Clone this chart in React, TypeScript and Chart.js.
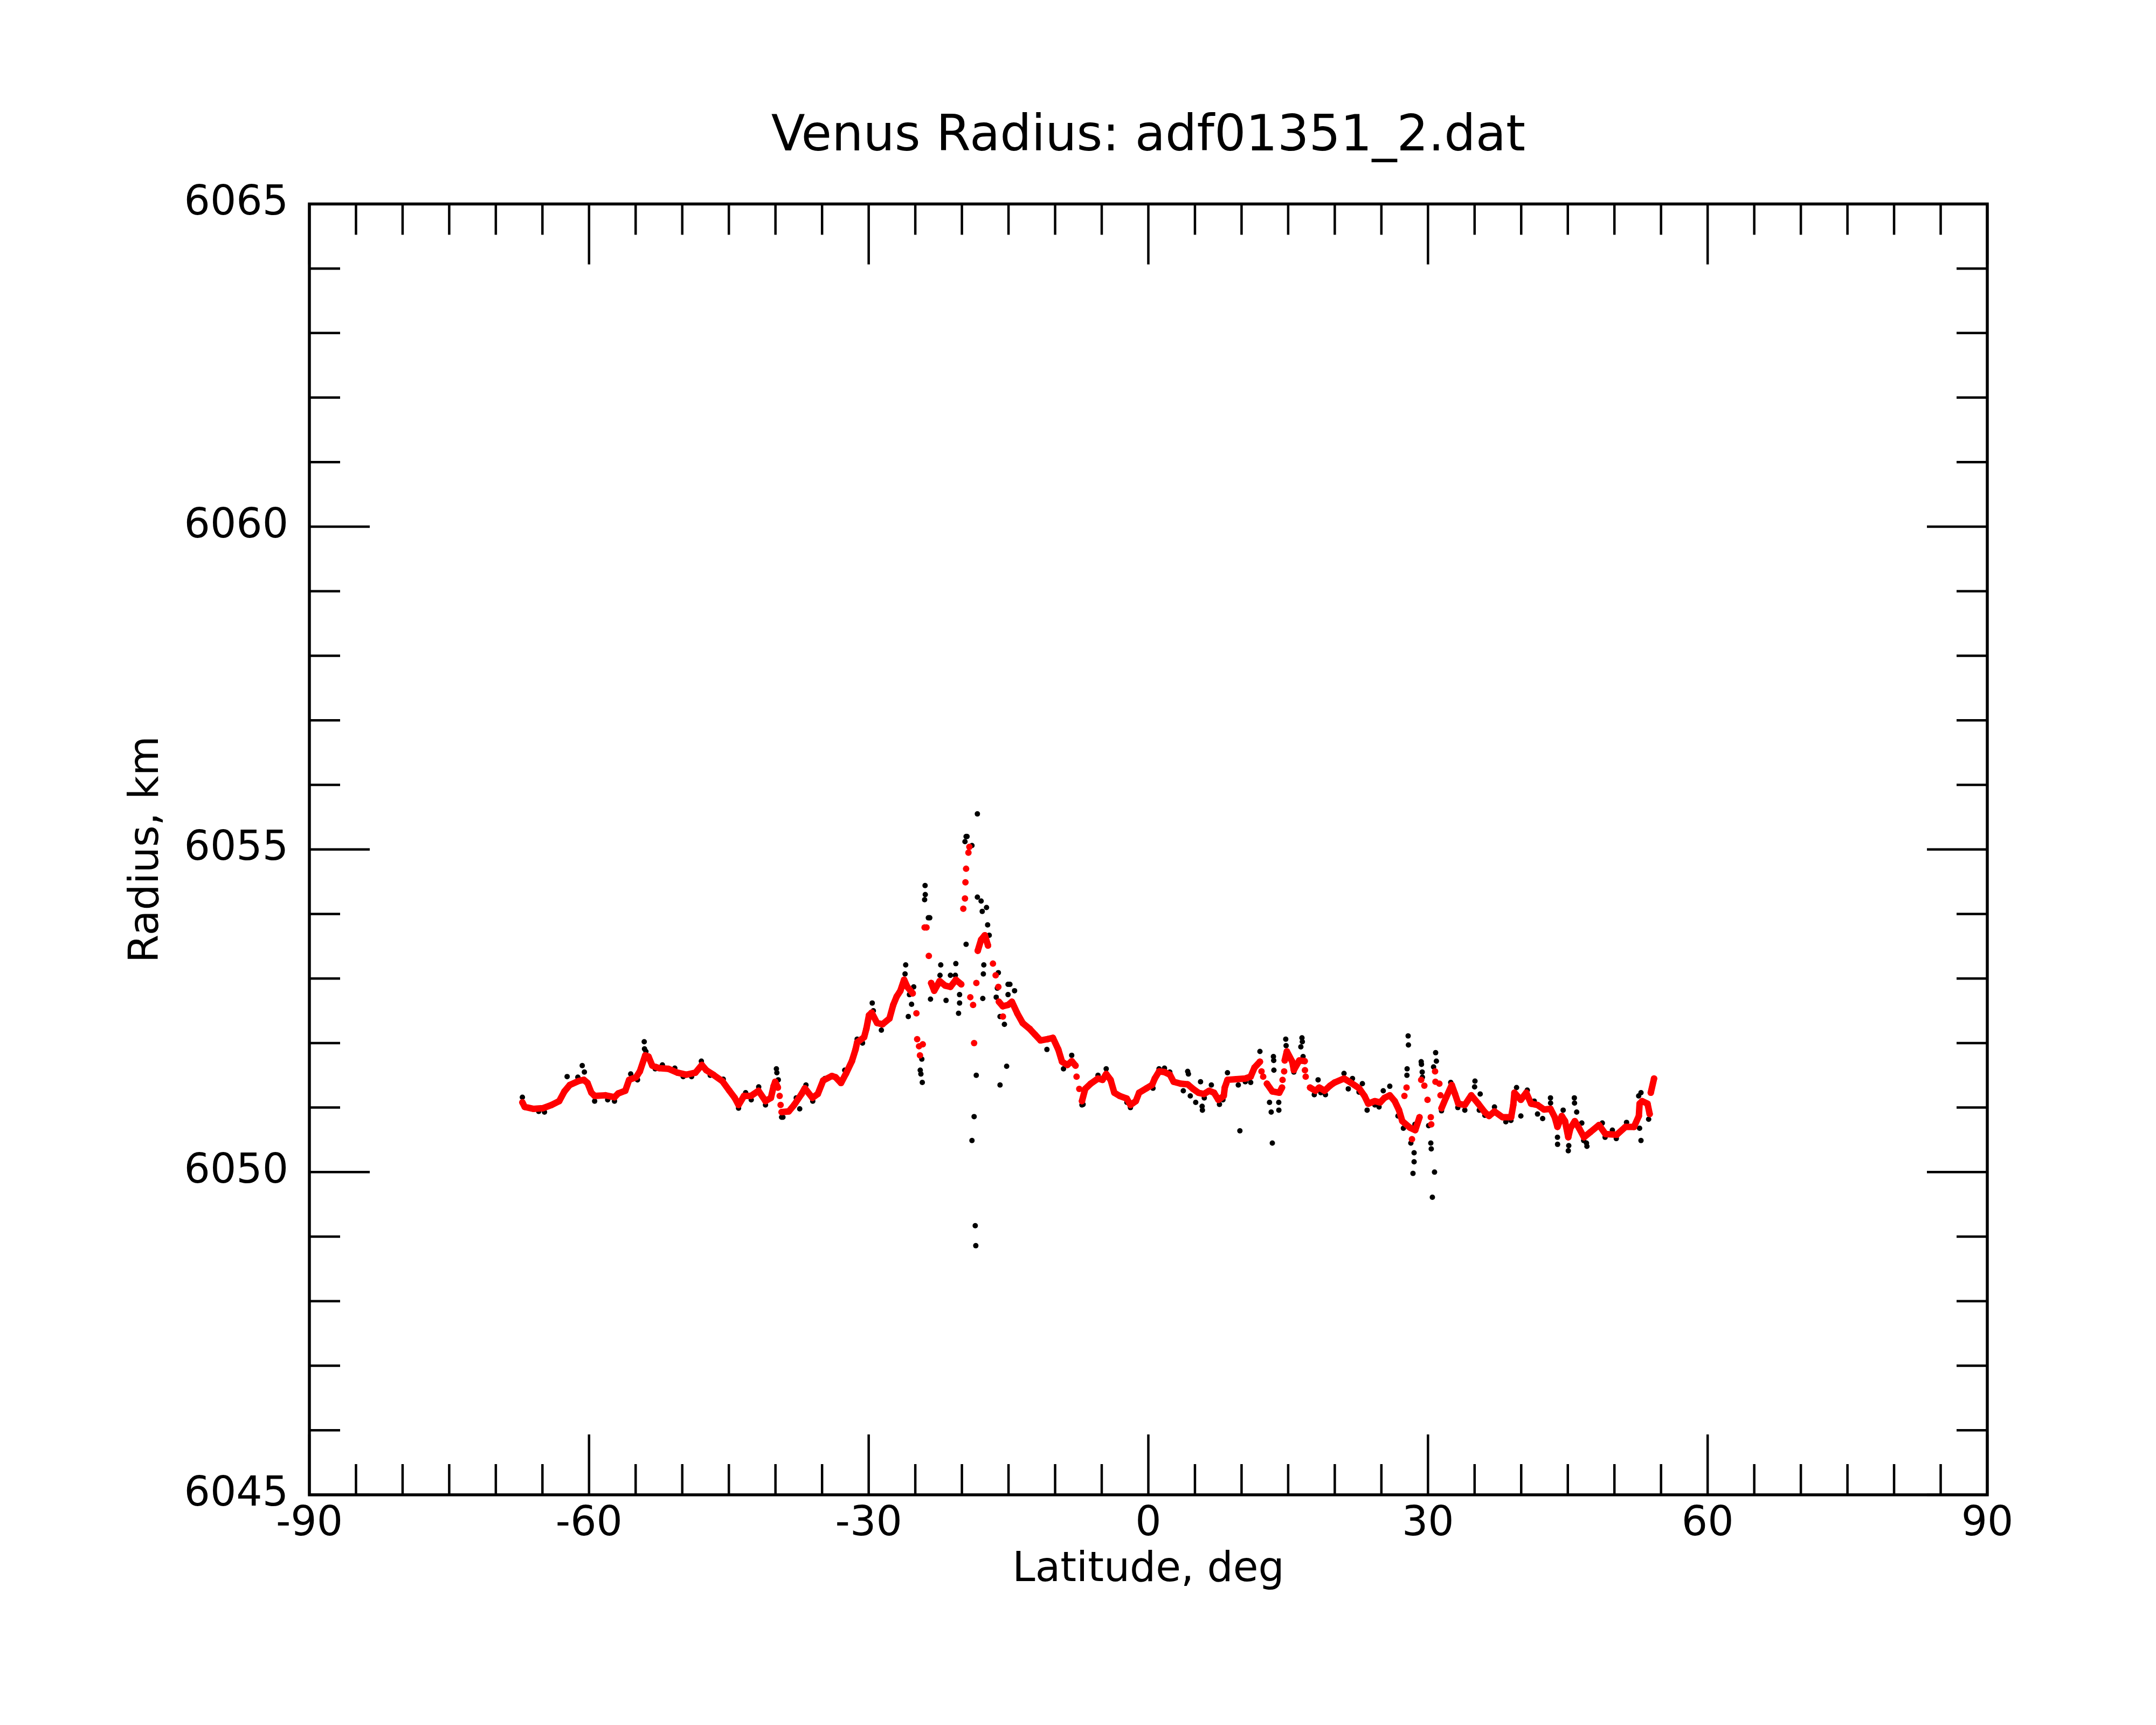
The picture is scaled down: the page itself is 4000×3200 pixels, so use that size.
import { useEffect, useRef } from "react"
import { Chart, registerables } from "chart.js"

Chart.register(...registerables)

const FONT = "'DejaVu Sans', 'Liberation Sans', sans-serif"

// axis ticks
const xMajorTicks = [-90, -60, -30, 0, 30, 60, 90]
const xMinorTicks = [
  -85, -80, -75, -70, -65, -55, -50, -45, -40, -35, -25, -20, -15, -10, -5,
  5, 10, 15, 20, 25, 35, 40, 45, 50, 55, 65, 70, 75, 80, 85,
]
const yMajorTicks = [6045, 6050, 6055, 6060, 6065]
const yMinorTicks = [
  6046, 6047, 6048, 6049, 6051, 6052, 6053, 6054, 6056, 6057, 6058, 6059,
  6061, 6062, 6063, 6064,
]

// red (filtered) trace, latitude deg / radius km
const redLat = [
  -67.15, -66.9, -65.94, -64.96, -64.03, -63.2, -62.64, -62.07, -61.14, -60.56,
  -60.16, -59.75, -59.4, -58.25, -57.27, -56.86, -56.11, -55.7, -54.95, -54.55,
  -53.97, -53.62, -53.22, -52.46, -51.48, -50.5, -49.57, -48.59, -47.9, -47.43,
  -46.68, -45.7, -44.94, -44.37, -43.96, -43.38, -42.63, -41.82, -41.07, -40.49,
  -40.2, -40.03, -39.74,
  -39.34, -38.58, -38.0, -37.2, -36.85, -36.04, -35.46, -34.88, -33.95, -33.55,
  -32.97, -32.39, -31.8, -31.41, -31.24, -30.49, -30.25, -29.97, -29.68, -29.1,
  -28.52, -27.77, -27.37, -27.0, -26.6, -26.2, -25.86, -25.28,
  -23.3, -22.97, -22.39, -21.8, -21.23, -20.65, -20.07,
  -18.3, -17.94, -17.54, -17.2,
  -16.03, -15.62, -15.05, -14.64, -14.06, -13.48, -12.73, -12.15, -11.57, -10.82,
  -10.24, -9.66, -9.26, -8.68, -8.22, -7.81,
  -7.12, -6.77, -6.19, -5.4, -4.92, -4.52, -4.05, -3.65, -3.07, -2.32, -1.92,
  -1.34, -0.99, -0.18, 0.4, 0.69, 1.15, 1.73, 2.31, 2.71, 3.46, 4.22, 4.79, 5.37,
  5.95, 6.53, 7.05, 7.51, 8.09, 8.2, 8.49, 9.42, 10.4, 10.98, 11.39, 11.97,
  12.72, 13.3, 14.05, 14.34,
  14.63, 14.86, 15.44, 15.61, 16.19, 16.77,
  17.35, 17.92, 18.33, 18.91, 19.5, 20.0, 20.99, 21.68, 22.61, 23.19, 23.59,
  24.29, 24.87, 25.33, 25.9, 26.43, 26.89, 27.24, 28.05, 28.63, 29.09,
  31.45, 31.92, 32.55, 32.9, 33.25, 33.95, 34.64, 35.39, 36.08, 36.55, 37.13,
  38.0, 38.92, 39.15, 39.27, 39.96, 40.54, 41.06, 41.75, 42.45, 43.14, 43.6,
  43.89, 44.35, 44.7, 45.05, 45.28, 45.75, 46.21, 46.73, 47.42, 48.35, 49.04,
  50.25, 51.18, 52.1, 52.62, 52.7, 52.97, 53.55, 53.78, 53.9, 54.25,
]
const redRad = [
  6051.08, 6051.01, 6050.98, 6050.99, 6051.04, 6051.1, 6051.25, 6051.35, 6051.41, 6051.43,
  6051.38, 6051.23, 6051.18, 6051.19, 6051.16, 6051.22, 6051.26, 6051.43, 6051.47, 6051.56,
  6051.81, 6051.79, 6051.65, 6051.61, 6051.6, 6051.54, 6051.51, 6051.54, 6051.66, 6051.58,
  6051.51, 6051.41, 6051.26, 6051.15, 6051.04, 6051.18, 6051.18, 6051.26, 6051.1, 6051.15,
  6051.33, 6051.4, 6051.31,
  6050.93, 6050.94, 6051.04, 6051.21, 6051.3, 6051.15, 6051.21, 6051.42, 6051.49, 6051.47,
  6051.38, 6051.54, 6051.72, 6051.9, 6052.01, 6052.09, 6052.22, 6052.43, 6052.47, 6052.31,
  6052.29, 6052.38, 6052.59, 6052.72, 6052.81, 6052.98, 6052.87, 6052.77,
  6052.93, 6052.81, 6052.96, 6052.89, 6052.87, 6052.98, 6052.91,
  6053.43, 6053.6, 6053.67, 6053.51,
  6052.64, 6052.57, 6052.59, 6052.64, 6052.46, 6052.31, 6052.22, 6052.13, 6052.04, 6052.06,
  6052.08, 6051.9, 6051.71, 6051.66, 6051.72, 6051.65,
  6051.1, 6051.29, 6051.37, 6051.45, 6051.43, 6051.52, 6051.43, 6051.23, 6051.18, 6051.14, 6051.04,
  6051.1, 6051.23, 6051.3, 6051.35, 6051.45, 6051.56, 6051.55, 6051.51, 6051.4, 6051.37, 6051.36, 6051.29, 6051.23,
  6051.21, 6051.26, 6051.23, 6051.12, 6051.18, 6051.31, 6051.43, 6051.44, 6051.45, 6051.48, 6051.62, 6051.71,
  6051.37, 6051.25, 6051.23, 6051.31,
  6051.73, 6051.87, 6051.71, 6051.58, 6051.73, 6051.72,
  6051.31, 6051.26, 6051.31, 6051.26, 6051.34, 6051.39, 6051.45, 6051.39, 6051.3, 6051.18, 6051.06,
  6051.1, 6051.08, 6051.15, 6051.19, 6051.1, 6050.96, 6050.79, 6050.69, 6050.65, 6050.85,
  6050.99, 6051.15, 6051.35, 6051.21, 6051.06, 6051.04, 6051.19, 6051.06, 6050.93, 6050.87, 6050.94,
  6050.85, 6050.85, 6051.04, 6051.23, 6051.12, 6051.23, 6051.06, 6051.04, 6050.97, 6050.98, 6050.85,
  6050.7, 6050.87, 6050.79, 6050.54, 6050.68, 6050.79, 6050.68, 6050.54, 6050.62, 6050.73, 6050.59,
  6050.58, 6050.7, 6050.7, 6050.87, 6051.06, 6051.1, 6051.06, 6050.9, 6051.23, 6051.45,
]

// red points that stand apart from the trace
const redDotLat = [
  -39.55, -39.45, -24.88, -24.8, -24.6, -24.5, -24.2, -24.0, -23.8, -23.55,
  -19.85, -19.67, -19.62, -19.55, -19.3, -19.2, -19.1, -18.8, -18.69, -18.45,
  -16.67, -16.38, -16.09, -15.6, -7.7, -7.41, 12.14, 12.32, 14.4, 14.57,
  16.8, 16.88, 27.47, 27.7, 28.28, 29.27, 29.61, 29.95, 30.3, 30.35,
  30.76, 30.8, 31.22, 31.34,
]
const redDotRad = [
  6051.18, 6051.04, 6052.46, 6052.06, 6051.95, 6051.81, 6051.98, 6053.79, 6053.79, 6053.35,
  6054.08, 6054.24, 6054.49, 6054.7, 6054.95, 6055.04, 6052.71, 6052.59, 6052.0, 6052.93,
  6053.23, 6053.05, 6052.87, 6052.41, 6051.48, 6051.29, 6051.56, 6051.48, 6051.43, 6051.56,
  6051.58, 6051.48, 6051.18, 6051.31, 6050.51, 6051.43, 6051.34, 6051.12, 6050.85, 6050.74,
  6051.56, 6051.4, 6051.37, 6051.19,
]

// black (raw) points
const blackLat = [
  -67.15, -65.4, -64.78, -62.35, -61.2, -60.73, -60.5, -59.4, -58.0, -57.27,
  -55.53, -54.8, -54.08, -54.05, -53.9, -52.9, -52.13, -50.8, -49.9, -49.0,
  -47.95, -47.0, -45.6, -44.6, -43.96, -43.2, -42.6, -41.8, -41.07, -39.9,
  -39.85, -39.7, -39.34, -39.2, -37.77, -37.4, -36.73, -36.0, -34.7, -32.57,
  -32.4, -31.24, -30.66, -29.62, -29.5, -28.64, -26.03, -26.1, -25.63, -25.4,
  -25.75, -25.17, -24.47, -24.3, -24.4, -24.25, -24.0, -23.95, -23.93, -23.6,
  -23.45, -23.37, -22.27, -22.35, -21.7, -21.23, -20.65, -20.7, -20.25, -20.25,
  -20.36, -19.67, -19.55, -19.45, -18.92, -19.55, -18.34, -18.34, -17.94, -17.82,
  -17.36, -17.24, -17.07, -17.65, -17.7, -17.76, -18.46, -18.69, -18.92, -18.57,
  -18.51, -16.09, -16.2, -16.32, -15.91, -15.44, -15.2, -15.91, -15.05, -14.85,
  -14.35, -15.05, -10.88,
  -9.1, -8.22, -7.12, -7.0, -5.4, -4.52, -2.3, -1.92, 0.5, 1.15,
  1.73, 2.3, 3.75, 4.22, 4.3, 4.5, 5.08, 5.77, 5.8, 5.6,
  6.0, 6.76, 7.63, 8.0, 8.49, 9.65, 9.82, 10.4, 10.98, 11.97,
  13.42, 13.45, 13.47, 13.0, 13.18, 13.99, 14.0, 13.3, 14.74, 14.78,
  15.61, 16.48, 16.52, 16.36, 16.6, 18.21, 17.8, 18.5, 19.0,
  20.99, 21.45, 21.9, 22.6, 22.96, 23.47, 24.3, 24.75, 25.9, 25.2,
  26.78, 27.36, 27.87, 27.9, 27.76, 27.74, 28.16, 28.51, 28.51, 28.39,
  28.6, 29.27, 29.3, 29.38, 29.4, 30.07, 30.3, 30.35, 30.7, 30.47,
  30.82, 30.9, 30.6, 32.44, 31.45, 33.2, 33.95, 35.04, 35.0, 35.6,
  35.5, 36.1, 37.13, 38.35, 38.9, 39.5, 40.65, 39.96, 41.4, 41.75,
  42.3, 43.14, 43.15, 44.5, 43.89, 43.9, 45.05, 45.1, 45.7, 45.72,
  45.95, 46.5, 46.7, 47.05, 47.0, 48.7, 49.0, 49.78, 50.2, 51.3,
  52.85, 52.6, 52.85, 52.7, 53.67,
]
const blackRad = [
  6051.16, 6050.94, 6050.93, 6051.48, 6051.47, 6051.65, 6051.55, 6051.1, 6051.12, 6051.1,
  6051.52, 6051.43, 6052.02, 6051.91, 6051.87, 6051.6, 6051.66, 6051.61, 6051.48, 6051.48,
  6051.72, 6051.5, 6051.44, 6051.2, 6050.99, 6051.23, 6051.12, 6051.32, 6051.04, 6051.6,
  6051.54, 6051.43, 6050.85, 6050.85, 6051.15, 6050.98, 6051.35, 6051.1, 6051.45, 6051.58,
  6051.52, 6052.06, 6052.0, 6052.62, 6052.5, 6052.2, 6053.21, 6053.07, 6052.75, 6052.6,
  6052.41, 6052.87, 6051.58, 6051.75, 6051.52, 6051.39, 6054.22, 6054.44, 6054.3, 6053.94,
  6053.94, 6052.68, 6053.21, 6053.05, 6052.66, 6053.05, 6053.23, 6053.05, 6052.75, 6052.62,
  6052.46, 6055.12, 6055.2, 6055.2, 6055.06, 6053.53, 6055.55, 6054.26, 6054.2, 6054.04,
  6054.1, 6053.83, 6053.67, 6053.21, 6053.07, 6052.69, 6051.5, 6050.86, 6050.49, 6049.17,
  6048.86, 6053.09, 6052.85, 6052.71, 6052.41, 6052.29, 6051.64, 6051.35, 6052.91, 6052.91,
  6052.81, 6052.75, 6051.9,
  6051.6, 6051.81, 6051.04, 6051.05, 6051.5, 6051.6, 6051.08, 6051.0, 6051.3, 6051.6,
  6051.61, 6051.55, 6051.26, 6051.56, 6051.52, 6051.18, 6051.08, 6051.02, 6050.96, 6051.4,
  6051.15, 6051.35, 6051.05, 6051.12, 6051.54, 6051.35, 6050.64, 6051.4, 6051.39, 6051.87,
  6051.79, 6051.73, 6051.58, 6051.08, 6050.93, 6051.08, 6050.96, 6050.45, 6052.06, 6051.96,
  6051.55, 6052.08, 6052.02, 6051.94, 6051.79, 6051.43, 6051.2, 6051.23, 6051.2,
  6051.53, 6051.29, 6051.45, 6051.24, 6051.37, 6050.96, 6051.04, 6051.01, 6051.33, 6051.26,
  6050.87, 6050.68, 6052.11, 6051.97, 6051.6, 6051.5, 6050.45, 6050.3, 6050.16, 6049.98,
  6050.74, 6051.71, 6051.67, 6051.55, 6051.47, 6050.72, 6050.45, 6050.36, 6050.0, 6049.61,
  6051.85, 6051.72, 6051.63, 6051.39, 6050.95, 6051.0, 6050.96, 6051.41, 6051.32, 6051.21,
  6050.96, 6050.88, 6051.01, 6050.78, 6050.8, 6051.31, 6051.27, 6050.87, 6051.1, 6050.9,
  6050.83, 6051.15, 6051.07, 6050.96, 6050.54, 6050.43, 6050.33, 6050.41, 6051.15, 6051.07,
  6050.93, 6050.76, 6050.49, 6050.4, 6050.45, 6050.76, 6050.54, 6050.65, 6050.52, 6050.77,
  6051.23, 6051.18, 6050.49, 6050.68, 6050.82,
]

const toPoints = (xs: number[], ys: number[]) => xs.map((x, i) => ({ x, y: ys[i] }))

// frame and inward ticks on all four sides
const framePlugin = {
  id: "frameTicks",
  afterDatasetsDraw(chart: any) {
    const { ctx, chartArea } = chart
    const { left, right, top, bottom } = chartArea
    const x = chart.scales.x
    const y = chart.scales.y
    ctx.save()
    ctx.strokeStyle = "#000"
    ctx.lineCap = "butt"
    ctx.lineWidth = 4.5
    const vTick = (v: number, len: number) => {
      const px = x.getPixelForValue(v)
      ctx.beginPath()
      ctx.moveTo(px, bottom)
      ctx.lineTo(px, bottom - len)
      ctx.moveTo(px, top)
      ctx.lineTo(px, top + len)
      ctx.stroke()
    }
    const hTick = (v: number, len: number) => {
      const py = y.getPixelForValue(v)
      ctx.beginPath()
      ctx.moveTo(left, py)
      ctx.lineTo(left + len, py)
      ctx.moveTo(right, py)
      ctx.lineTo(right - len, py)
      ctx.stroke()
    }
    xMinorTicks.forEach((v) => vTick(v, 57))
    xMajorTicks.forEach((v) => vTick(v, 112))
    yMinorTicks.forEach((v) => hTick(v, 57))
    yMajorTicks.forEach((v) => hTick(v, 112))
    ctx.lineWidth = 5.5
    ctx.lineJoin = "miter"
    ctx.strokeRect(left, top, right - left, bottom - top)
    ctx.restore()
  },
}

export default function App() {
  const canvasRef = useRef<HTMLCanvasElement>(null)
  const chartRef = useRef<Chart | null>(null)

  useEffect(() => {
    if (!canvasRef.current) return
    if (chartRef.current) chartRef.current.destroy()
    const ctx = canvasRef.current.getContext("2d")
    if (!ctx) return

    // leave steep jumps as separate dots, like the sparse samples in the plot
    const gap = (c: any) =>
      Math.abs(c.p1.y - c.p0.y) > 38 || Math.abs(c.p1.x - c.p0.x) > 28

    chartRef.current = new Chart(ctx, {
      type: "scatter",
      data: {
        datasets: [
          {
            label: "filtered",
            data: toPoints(redLat, redRad),
            showLine: true,
            borderColor: "#ff0000",
            borderWidth: 12,
            borderJoinStyle: "round",
            borderCapStyle: "round",
            backgroundColor: "#ff0000",
            pointRadius: 6,
            pointBorderWidth: 0,
            tension: 0,
            segment: {
              borderColor: (c: any) => (gap(c) ? "rgba(0,0,0,0)" : "#ff0000"),
            },
          } as any,
          {
            label: "filtered dots",
            data: toPoints(redDotLat, redDotRad),
            backgroundColor: "#ff0000",
            pointRadius: 6,
            pointBorderWidth: 0,
          },
          {
            label: "raw",
            data: toPoints(blackLat, blackRad),
            backgroundColor: "#000000",
            pointRadius: 5,
            pointBorderWidth: 0,
          },
        ],
      },
      options: {
        responsive: false,
        animation: false,
        devicePixelRatio: 1,
        layout: { padding: 0 },
        plugins: {
          legend: { display: false },
          tooltip: { enabled: false },
          title: {
            display: true,
            text: "Venus Radius: adf01351_2.dat",
            color: "#000",
            fullSize: false,
            font: { family: FONT, size: 92, weight: "normal" },
            padding: { top: 200, bottom: 68 },
          },
        },
        scales: {
          x: {
            type: "linear",
            position: "bottom",
            min: -90,
            max: 90,
            grid: { display: false, drawTicks: false },
            border: { display: false },
            afterBuildTicks: (s: any) => {
              s.ticks = xMajorTicks.map((v) => ({ value: v }))
            },
            afterFit: (s: any) => {
              s.height = 427
            },
            ticks: {
              autoSkip: false,
              maxRotation: 0,
              minRotation: 0,
              padding: 10,
              color: "#000",
              font: { family: FONT, size: 76 },
              callback: (v: any) => String(v),
            },
            title: {
              display: true,
              text: "Latitude, deg",
              color: "#000",
              font: { family: FONT, size: 76 },
              padding: { top: 0, bottom: 241 },
            },
          },
          y: {
            type: "linear",
            position: "left",
            min: 6045,
            max: 6065,
            grid: { display: false, drawTicks: false },
            border: { display: false },
            afterBuildTicks: (s: any) => {
              s.ticks = yMajorTicks.map((v) => ({ value: v }))
            },
            afterFit: (s: any) => {
              s.width = 574
            },
            ticks: {
              autoSkip: false,
              padding: 39,
              color: "#000",
              font: { family: FONT, size: 76 },
              callback: (v: any) => String(v),
            },
            title: {
              display: true,
              text: "Radius, km",
              color: "#000",
              font: { family: FONT, size: 76 },
              padding: { top: 228, bottom: 0 },
            },
          },
          yR: {
            type: "linear",
            position: "right",
            min: 0,
            max: 1,
            grid: { display: false, drawTicks: false },
            border: { display: false },
            ticks: { display: false },
            afterFit: (s: any) => {
              s.width = 313
            },
          },
        },
      },
      plugins: [framePlugin],
    })

    return () => {
      if (chartRef.current) {
        chartRef.current.destroy()
        chartRef.current = null
      }
    }
  }, [])

  return (
    <div
      style={{
        position: "absolute",
        left: 0,
        top: 0,
        width: 4000,
        height: 3200,
        background: "#fff",
      }}
    >
      <canvas ref={canvasRef} width={4000} height={3200} />
    </div>
  )
}
